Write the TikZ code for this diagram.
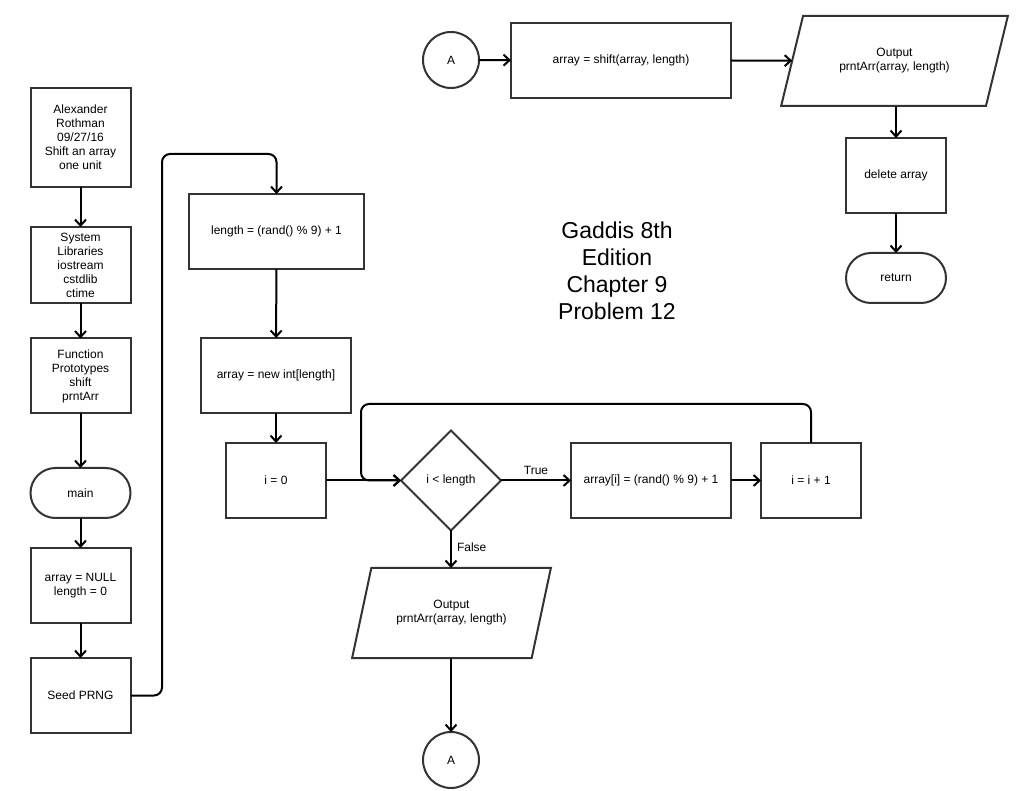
\documentclass[tikz,border=0pt]{standalone}
\usepackage{fontspec}
\setmainfont{Liberation Sans}
\usetikzlibrary{arrows.meta,shapes.geometric}

\begin{document}
\begin{tikzpicture}[x=1pt,y=-1pt,
  every node/.style={font=\fontsize{12}{14}\selectfont, inner sep=0pt, outer sep=0pt, align=center},
  box/.style={draw=black!80, line width=2pt, rectangle, minimum width=#1, minimum height=75pt},
  box/.default=100pt,
  term/.style={draw=black!80, line width=2pt, rectangle, rounded corners=25pt, minimum width=100pt, minimum height=50pt},
  io/.style={draw=black!80, line width=2pt, trapezium, trapezium left angle=62, trapezium right angle=118,
             trapezium stretches=true, minimum width=#1, minimum height=90pt},
  conn/.style={draw=black, line width=2pt, rounded corners=8pt},
  arr/.style={conn, -{Straight Barb[length=6pt,width=11pt]}},
  link/.style={draw=black!80, line width=2pt, circle, minimum size=56pt},
  decide/.style={draw=black!80, line width=2pt, diamond, aspect=1, minimum width=100pt, minimum height=100pt},
  lbl/.style={font=\fontsize{12}{14}\selectfont},
  title/.style={font=\fontsize{23}{27}\selectfont}
]
\useasboundingbox[fill=white] (0,0) rectangle (1021,791);

% left column: setup steps
\node[box, minimum height=99pt] (head) at (80.5,137.5) {Alexander\\Rothman\\09/27/16\\Shift an array\\one unit};
\node[box, minimum height=76pt] (libs) at (80.5,265) {System\\Libraries\\iostream\\cstdlib\\ctime};
\node[box] (proto) at (80.5,376) {Function\\Prototypes\\shift\\prntArr};
\node[term] (main) at (80.5,493) {main};
\node[box] (init) at (80.5,585.5) {array = NULL\\length = 0};
\node[box] (seed) at (80.5,695.5) {Seed PRNG};

% middle column: allocation and fill loop
\node[box=175pt] (len) at (276.5,231.5) {length = (rand() \% 9) + 1};
\node[box=150pt] (alloc) at (276,375.5) {array = new int[length]};
\node[box] (izero) at (276,480.5) {i = 0};
\node[decide] (test) at (451,480.5) {i < length};
\node[box=160pt] (fill) at (651,480.5) {array[i] = (rand() \% 9) + 1};
\node[box] (inc) at (811,480.5) {i = i + 1};
\node[io=199pt] (out1) at (451.5,613) {Output\\prntArr(array, length)};
\node[link] (conA) at (451,760) {A};

% top row: shift and output
\node[link] (conB) at (451,60) {A};
\node[box=220pt] (shift) at (621,60.5) {array = shift(array, length)};
\node[io=227pt] (out2) at (894.5,61) {Output\\prntArr(array, length)};
\node[box] (del) at (896,175.5) {delete array};
\node[term] (ret) at (896,278) {return};

% title
\node[title] (ttl) at (617,270.5) {Gaddis 8th\\Edition\\Chapter 9\\Problem 12};

% bend points
\coordinate (seedUp) at (162,154);
\coordinate (loopTop) at (361,404);

% connectors
\draw[arr] (head) -- (libs);
\draw[arr] (libs) -- (proto);
\draw[arr] (proto) -- (main);
\draw[arr] (main) -- (init);
\draw[arr] (init) -- (seed);
\draw[arr] (seed.east) -| (seedUp) -| (len.north);
\draw[arr] (len) -- (alloc);
\draw[arr] (alloc) -- (izero);
\draw[arr] (izero.east) -- (test.west);
\draw[arr] (test.east) -- node[lbl, above=6pt] (tlbl) {True} (fill.west);
\draw[arr] (fill) -- (inc);
\draw[arr] (inc.north) |- (loopTop) |- (test.west);
\draw[arr] (test.south) -- node[lbl, pos=0.45, right=6pt] (flbl) {False} (out1.north -| test.south);
\draw[arr] (conA.north |- out1.south) -- (conA.north);
\draw[arr] (conB) -- (shift);
\draw[arr] (shift.east) -- (out2);
\draw[arr] (del.north |- out2.south) -- (del.north);
\draw[arr] (del) -- (ret);
\end{tikzpicture}
\end{document}
